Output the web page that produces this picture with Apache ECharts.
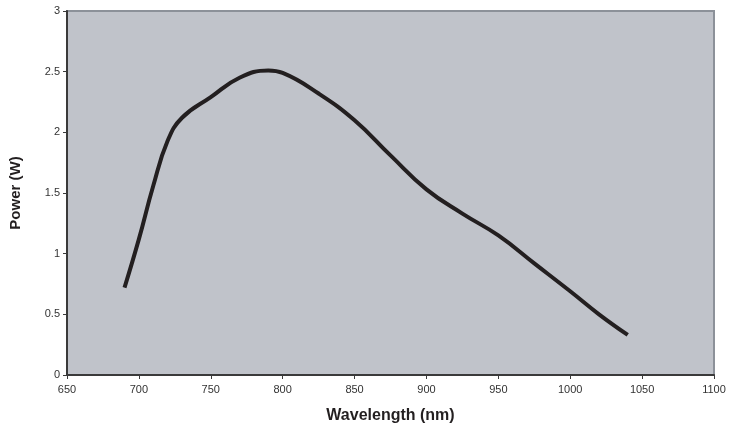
<!DOCTYPE html>
<html>
<head>
<meta charset="utf-8">
<script src="https://cdn.jsdelivr.net/npm/echarts@6/dist/echarts.min.js"></script>
<style>
html,body{margin:0;padding:0;background:#fff;}
#chart{width:737px;height:430px;}
</style>
</head>
<body>
<div id="chart"></div>
<script>
var wavelengths = [690,700,710,720,730,750,770,790,800,825,850,875,900,925,950,975,1000,1020,1040];
var powerValues = [0.72,1.12,1.56,1.93,2.12,2.29,2.45,2.51,2.49,2.32,2.10,1.81,1.53,1.33,1.15,0.92,0.69,0.50,0.33];
var xTicks = {min:650, max:1100, interval:50};
var yTicks = {min:0, max:3, interval:0.5};

var points = wavelengths.map(function(w,i){return [w, powerValues[i]];});

var chart = echarts.init(document.getElementById('chart'), null, {renderer:'canvas'});
chart.setOption({
  animation:false,
  backgroundColor:'#ffffff',
  textStyle:{fontFamily:'Liberation Sans, Arial, sans-serif'},
  grid:{left:67, right:23, top:11, bottom:55, show:true, backgroundColor:'#c0c3ca', borderColor:'#8c9199', borderWidth:2},
  xAxis:{
    type:'value', min:xTicks.min, max:xTicks.max, interval:xTicks.interval,
    name:'Wavelength (nm)', nameLocation:'middle', nameGap:33,
    nameTextStyle:{fontSize:16, fontWeight:'bold', color:'#231f20', fontFamily:'Liberation Sans, Arial, sans-serif'},
    axisLine:{show:true, onZero:false, lineStyle:{color:'#3a3a3a', width:2}},
    axisTick:{show:true, inside:false, length:4, lineStyle:{color:'#3a3a3a', width:1}},
    axisLabel:{fontSize:11, color:'#333', margin:9, formatter:function(v){return String(v);}},
    splitLine:{show:false}
  },
  yAxis:{
    type:'value', min:yTicks.min, max:yTicks.max, interval:yTicks.interval,
    name:'Power (W)', nameLocation:'middle', nameGap:44, nameRotate:90,
    nameTextStyle:{fontSize:15, fontWeight:'bold', color:'#231f20', fontFamily:'Liberation Sans, Arial, sans-serif'},
    axisLine:{show:true, onZero:false, lineStyle:{color:'#3a3a3a', width:2}},
    axisTick:{show:true, inside:false, length:4, lineStyle:{color:'#3a3a3a', width:1}},
    axisLabel:{fontSize:11, color:'#333', margin:7, formatter:function(v){return String(v);}},
    splitLine:{show:false}
  },
  series:[{
    type:'line', data:points, smooth:0.45, showSymbol:false, symbol:'none',
    lineStyle:{color:'#231f20', width:4, cap:'butt'}
  }]
});
</script>
</body>
</html>
